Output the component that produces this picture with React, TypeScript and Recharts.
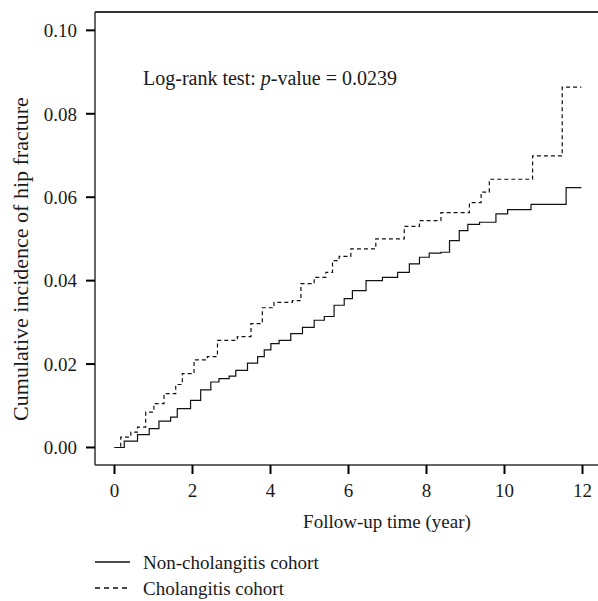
import React from "react";
import { LineChart, Line, XAxis, YAxis, Legend, ReferenceLine } from "recharts";

// follow-up time (years) and cumulative incidence
const nonTimes = [0, 0.25, 0.59, 0.89, 1.14, 1.44, 1.61, 1.95, 2.21, 2.47, 2.68, 2.94, 3.11, 3.41, 3.67, 3.84, 4.01, 4.22, 4.52, 4.82, 5.12, 5.38, 5.63, 5.89, 6.1, 6.45, 6.87, 7.26, 7.56, 7.82, 8.07, 8.37, 8.59, 8.84, 9.06, 9.36, 9.78, 10.08, 10.68, 11.58, 11.97];
const nonValues = [0, 0.0015, 0.0031, 0.0045, 0.0063, 0.0073, 0.0093, 0.0113, 0.0138, 0.0157, 0.0165, 0.0171, 0.0185, 0.0202, 0.0218, 0.0234, 0.0249, 0.0257, 0.0273, 0.0288, 0.0305, 0.0314, 0.0341, 0.0357, 0.0376, 0.04, 0.0408, 0.042, 0.044, 0.0456, 0.0466, 0.0468, 0.0496, 0.052, 0.0535, 0.054, 0.056, 0.057, 0.0583, 0.0623, 0.0623];

const cholTimes = [0, 0.16, 0.42, 0.59, 0.8, 1.01, 1.27, 1.57, 1.74, 2.04, 2.38, 2.64, 3.15, 3.5, 3.79, 4.09, 4.56, 4.78, 5.12, 5.42, 5.59, 5.76, 6.06, 6.7, 7.43, 7.82, 8.37, 9.1, 9.4, 9.61, 10.72, 11.48, 11.97];
const cholValues = [0, 0.0025, 0.0037, 0.0049, 0.0085, 0.0105, 0.0129, 0.0151, 0.0177, 0.021, 0.0218, 0.0257, 0.0266, 0.0297, 0.0335, 0.0348, 0.0352, 0.0393, 0.0408, 0.042, 0.0448, 0.0458, 0.0476, 0.05, 0.053, 0.0544, 0.0563, 0.0587, 0.0612, 0.0643, 0.0699, 0.0864, 0.0864];

const xTicks = [0, 2, 4, 6, 8, 10, 12];
const yTicks = [0, 0.02, 0.04, 0.06, 0.08, 0.1];
const xDomain = [-0.5, 12.5];
const yDomain = [-0.0042, 0.1044];

const seriesNames = ["Non-cholangitis cohort", "Cholangitis cohort"];

const nonData = nonTimes.map((t, i) => ({ t, v: nonValues[i] }));
const cholData = cholTimes.map((t, i) => ({ t, v: cholValues[i] }));

const FONT = "'Liberation Serif', 'DejaVu Serif', serif";
const FS = 19;

const YLabel = () => (
  <text
    x={20}
    y={259}
    transform="rotate(-90 20 259)"
    textAnchor="middle"
    dominantBaseline="central"
    fontFamily={FONT}
    fontSize={22}
    fill="#1a1a1a"
  >
    Cumulative incidence of hip fracture
  </text>
);

const XLabel = () => (
  <text x={387} y={521} textAnchor="middle" dominantBaseline="central" fontFamily={FONT} fontSize={FS} fill="#1a1a1a">
    Follow-up time (year)
  </text>
);

const PLabel = () => (
  <text x={143} y={78} dominantBaseline="central" fontFamily={FONT} fontSize={20} fill="#1a1a1a">
    <tspan>Log-rank test: </tspan>
    <tspan fontStyle="italic">p</tspan>
    <tspan>-value = 0.0239</tspan>
  </text>
);

const LegendBox = () => (
  <svg width={400} height={60} style={{ display: "block" }}>
    {seriesNames.map((name, i) => (
      <g key={name}>
        <line
          x1={0}
          x2={35}
          y1={17 + i * 26}
          y2={17 + i * 26}
          stroke="#111"
          strokeWidth={1.6}
          strokeDasharray={i === 1 ? "5 4" : undefined}
        />
        <text x={48} y={17 + i * 26} dominantBaseline="central" fontFamily={FONT} fontSize={FS} fill="#1a1a1a">
          {name}
        </text>
      </g>
    ))}
  </svg>
);

export default function App() {
  return (
    <div style={{ position: "absolute", left: 0, top: 0, width: 598, height: 601, overflow: "hidden", background: "#fff" }}>
      <LineChart width={610} height={601} margin={{ top: 12, right: 8, left: 0, bottom: 96 }}>
        <XAxis
          type="number"
          dataKey="t"
          domain={xDomain}
          ticks={xTicks}
          allowDataOverflow
          height={40}
          tickSize={9}
          tickMargin={10}
          tickLine={{ stroke: "#000", strokeWidth: 2 }}
          axisLine={{ stroke: "#333", strokeWidth: 1.5 }}
          tick={{ fontFamily: FONT, fontSize: FS, fill: "#1a1a1a" }}
          label={<XLabel />}
        />
        <YAxis
          type="number"
          domain={yDomain}
          ticks={yTicks}
          allowDataOverflow
          width={95}
          tickSize={9}
          tickMargin={9}
          tickFormatter={(v: number) => v.toFixed(2)}
          tickLine={{ stroke: "#000", strokeWidth: 2 }}
          axisLine={{ stroke: "#333", strokeWidth: 1.5 }}
          tick={{ fontFamily: FONT, fontSize: FS, fill: "#1a1a1a" }}
          label={<YLabel />}
        />
        <ReferenceLine y={0.1} stroke="none" label={<PLabel />} />
        <Legend
          layout="vertical"
          align="center"
          verticalAlign="middle"
          content={() => <LegendBox />}
          wrapperStyle={{ position: "absolute", left: 95, top: 545, width: 400, height: 60 }}
        />
        <Line
          data={nonData}
          dataKey="v"
          name={seriesNames[0]}
          type="stepAfter"
          stroke="#111"
          strokeWidth={1.2}
          dot={false}
          isAnimationActive={false}
        />
        <Line
          data={cholData}
          dataKey="v"
          name={seriesNames[1]}
          type="stepAfter"
          stroke="#111"
          strokeWidth={1.2}
          strokeDasharray="4 3"
          dot={false}
          isAnimationActive={false}
        />
      </LineChart>
      {/* top edge of the plot frame */}
      <div style={{ position: "absolute", left: 95, top: 11, width: 503, height: 1.5, background: "#333" }} />
    </div>
  );
}
